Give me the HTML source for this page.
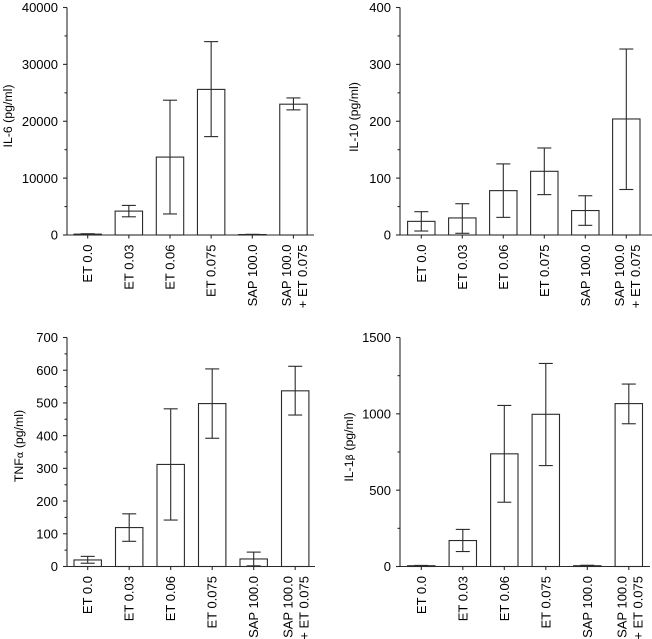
<!DOCTYPE html>
<html lang="en">
<head>
<meta charset="utf-8">
<title>Cytokine levels</title>
<style>
html,body{margin:0;padding:0;background:#fff;}
svg{display:block;filter:blur(0.35px);}
text{font-family:"Liberation Sans",sans-serif;fill:#000;}
</style>
</head>
<body>
<svg id="chart" width="652" height="639" viewBox="0 0 652 639" xmlns="http://www.w3.org/2000/svg"></svg>
<script>
const categories = ['ET 0.0', 'ET 0.03', 'ET 0.06', 'ET 0.075', 'SAP 100.0', 'SAP 100.0|+ ET 0.075'];

const il6Values = [150, 4200, 13700, 25600, 80, 23000];
const il6Low = [80, 3200, 3700, 17300, 40, 22000];
const il6High = [220, 5200, 23700, 34000, 120, 24100];
const il6Ticks = [0, 10000, 20000, 30000, 40000];

const il10Values = [24, 30, 78, 112, 43, 204];
const il10Low = [7, 3, 31, 71, 17, 80];
const il10High = [41, 55, 125, 153, 69, 327];
const il10Ticks = [0, 100, 200, 300, 400];

const tnfValues = [20, 119, 312, 498, 23, 537];
const tnfLow = [10, 77, 142, 392, 2, 463];
const tnfHigh = [31, 161, 482, 604, 44, 612];
const tnfTicks = [0, 100, 200, 300, 400, 500, 600, 700];

const il1Values = [5, 170, 738, 997, 5, 1067];
const il1Low = [3, 98, 421, 661, 3, 935];
const il1High = [7, 243, 1055, 1330, 8, 1195];
const il1Ticks = [0, 500, 1000, 1500];

const panels = [
  {id:'il-6', title:'IL-6 (pg/ml)', greek:'', suffix:'', values:il6Values, low:il6Low, high:il6High, ticks:il6Ticks,
   axisX:67, top:7.5, bottom:235, right:314, first:87.7, step:41.15, titleX:12, titleY:116},
  {id:'il-10', title:'IL-10 (pg/ml)', greek:'', suffix:'', values:il10Values, low:il10Low, high:il10High, ticks:il10Ticks,
   axisX:400, top:7.5, bottom:235, right:652, first:421.3, step:41, titleX:358, titleY:117},
  {id:'tnf-alpha', title:'TNF', greek:'α', suffix:' (pg/ml)', values:tnfValues, low:tnfLow, high:tnfHigh, ticks:tnfTicks,
   axisX:67, top:337.5, bottom:566.5, right:315, first:87.7, step:41.5, titleX:23, titleY:446},
  {id:'il-1-beta', title:'IL-1', greek:'β', suffix:' (pg/ml)', values:il1Values, low:il1Low, high:il1High, ticks:il1Ticks,
   axisX:400, top:337.5, bottom:566.5, right:650, first:421.3, step:41.5, titleX:353, titleY:447}
];

const NS = 'http://www.w3.org/2000/svg';
const svg = document.getElementById('chart');
const INK = '#2a2a2a';

function make(parent, tag, attrs) {
  const el = document.createElementNS(NS, tag);
  for (const k in attrs) el.setAttribute(k, attrs[k]);
  parent.appendChild(el);
  return el;
}
function seg(parent, x1, y1, x2, y2) {
  return make(parent, 'line', {x1: x1, y1: y1, x2: x2, y2: y2, stroke: INK, 'stroke-width': 1.1});
}

panels.forEach(function (p) {
  const maxV = p.ticks[p.ticks.length - 1];
  const yScale = function (v) { return p.bottom - (v / maxV) * (p.bottom - p.top); };
  const xScale = function (i) { return p.first + i * p.step; };

  const g = make(svg, 'g', {});
  
  

  // bars and error bars
  p.values.forEach(function (v, i) {
    const cx = xScale(i);
    const bar = make(g, 'rect', {x: cx - 13.7, y: yScale(v), width: 27.4, height: p.bottom - yScale(v),
      fill: '#fff', stroke: INK, 'stroke-width': 1.1});
    
    

    const err = make(g, 'g', {});
    
    
    seg(err, cx, yScale(p.low[i]), cx, yScale(p.high[i]));
    seg(err, cx - 7, yScale(p.high[i]), cx + 7, yScale(p.high[i]));
    seg(err, cx - 7, yScale(p.low[i]), cx + 7, yScale(p.low[i]));
  });

  // y axis
  const yAxis = seg(g, p.axisX, p.top, p.axisX, p.bottom);
  
  

  p.ticks.forEach(function (t, i) {
    const y = yScale(t);
    seg(g, p.axisX - 4, y, p.axisX, y);
    const label = make(g, 'text', {x: p.axisX - 9, y: y + 4.7, 'text-anchor': 'end', 'font-size': 13});
    label.textContent = String(t);
    
    
    if (i < p.ticks.length - 1) {
      const my = yScale((t + p.ticks[i + 1]) / 2);
      seg(g, p.axisX - 2.5, my, p.axisX, my);
    }
  });

  // x axis
  const xAxis = seg(g, p.axisX - 4, p.bottom, p.right, p.bottom);
  
  

  categories.forEach(function (c, i) {
    const cx = xScale(i);
    seg(g, cx, p.bottom, cx, p.bottom + 3.5);
    const lines = c.split('|');
    lines.forEach(function (line, j) {
      const lx = lines.length > 1 ? cx - 7 + j * 16 : cx;
      const ly = p.bottom + 9.5;
      const label = make(g, 'text', {x: 0, y: 0, 'text-anchor': 'end', 'font-size': 13,
        transform: 'translate(' + (lx + 4.5) + ',' + ly + ') rotate(-90)'});
      label.textContent = line;
      
      
    });
  });

  // y axis title
  const title = make(g, 'text', {x: 0, y: 0, 'text-anchor': 'middle', 'font-size': 12.3,
    transform: 'translate(' + p.titleX + ',' + p.titleY + ') rotate(-90)'});
  
  
  title.appendChild(document.createTextNode(p.title));
  if (p.greek) {
    const sym = make(title, 'tspan', {'font-size': 10, 'font-family': '"DejaVu Sans", sans-serif'});
    sym.textContent = p.greek;
    title.appendChild(document.createTextNode(p.suffix));
  }
});
</script>
</body>
</html>
